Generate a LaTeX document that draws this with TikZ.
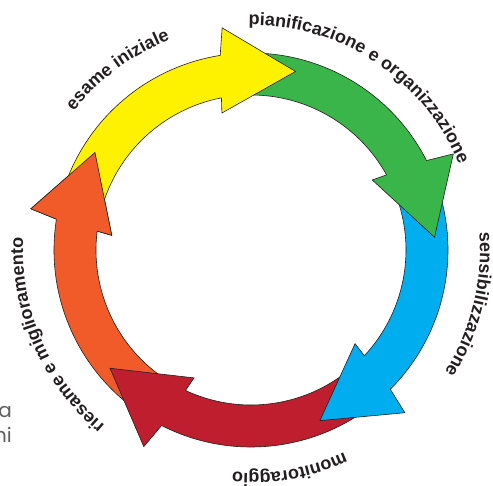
\documentclass[tikz,border=0pt]{standalone}
\usepackage{fontspec}
\setsansfont{Liberation Sans}
\newfontfamily\notefont{Poppins}
\usepackage{tikz}
\usetikzlibrary{decorations.text}

\definecolor{ringyellow}{RGB}{255,242,0}
\definecolor{ringgreen}{RGB}{57,181,74}
\definecolor{ringblue}{RGB}{0,174,239}
\definecolor{ringred}{RGB}{190,30,45}
\definecolor{ringorange}{RGB}{241,90,41}
\definecolor{labelgray}{RGB}{35,31,32}
\definecolor{notegray}{RGB}{95,95,95}

\newcommand{\labelfont}{\sffamily\bfseries\fontsize{18}{20}\selectfont}

% one arrow of the ring: #1 colour, #2 angle of the tip
\newcommand{\ringarrow}[2]{%
  \filldraw[fill=#1, ringline]
    ({#2+89}:155pt) arc[start angle=#2+89, end angle=#2+25, radius=155pt]
    -- ({#2+26}:140pt) -- (#2:184pt) -- ({#2+21.4}:224pt)
    -- ({#2+23}:197pt) arc[start angle=#2+23, end angle=#2+89, radius=197pt]
    -- cycle;}

\tikzset{
  ringline/.style={draw=labelgray, line width=0.6pt, line join=miter},
  ringlabel/.style={decorate, decoration={text along path, text align=center,
      text color=labelgray}}
}

\begin{document}
\begin{tikzpicture}
    \useasboundingbox (-251pt,-236pt) rectangle (242pt,250pt);

    % Draw the five arrows, each head over the next tail
    \ringarrow{ringorange}{-212}
    \ringarrow{ringred}{-140}
    \ringarrow{ringblue}{-68}
    \ringarrow{ringgreen}{4}
    \ringarrow{ringyellow}{76}

    % Draw the orange head again, over the yellow tail
    \filldraw[fill=ringorange, ringline]
      (-187:155pt) -- (-186:140pt) -- (-212:184pt) -- (-190.6:224pt) -- (-189:197pt);

    % Labels along the ring
    \path[ringlabel, decoration={text={|\labelfont|esame iniziale}}]
      (166.5:225pt) arc[start angle=166.5, end angle=86.5, radius=225pt];
    \path[ringlabel, decoration={text={|\labelfont|pianificazione e organizzazione}}]
      (106.5:225pt) arc[start angle=106.5, end angle=6.5, radius=225pt];
    \path[ringlabel, decoration={text={|\labelfont|sensibilizzazione}}]
      (36:229pt) arc[start angle=36, end angle=-64, radius=229pt];
    \path[ringlabel, decoration={text={|\labelfont|monitoraggio}}]
      (-40:223pt) arc[start angle=-40, end angle=-120, radius=223pt];
    \path[ringlabel, decoration={text={|\labelfont|riesame e miglioramento}}]
      (253.5:228pt) arc[start angle=253.5, end angle=153.5, radius=228pt];

    % Cut-off words at the left border
    \node[anchor=base east, inner sep=0pt, text=notegray, font=\notefont\fontsize{20}{22}\selectfont] (notea) at (-239pt,-168pt) {a};
    \node[anchor=base east, inner sep=0pt, text=notegray, font=\notefont\fontsize{20}{22}\selectfont] (notehi) at (-239pt,-193pt) {hi};
\end{tikzpicture}
\end{document}
